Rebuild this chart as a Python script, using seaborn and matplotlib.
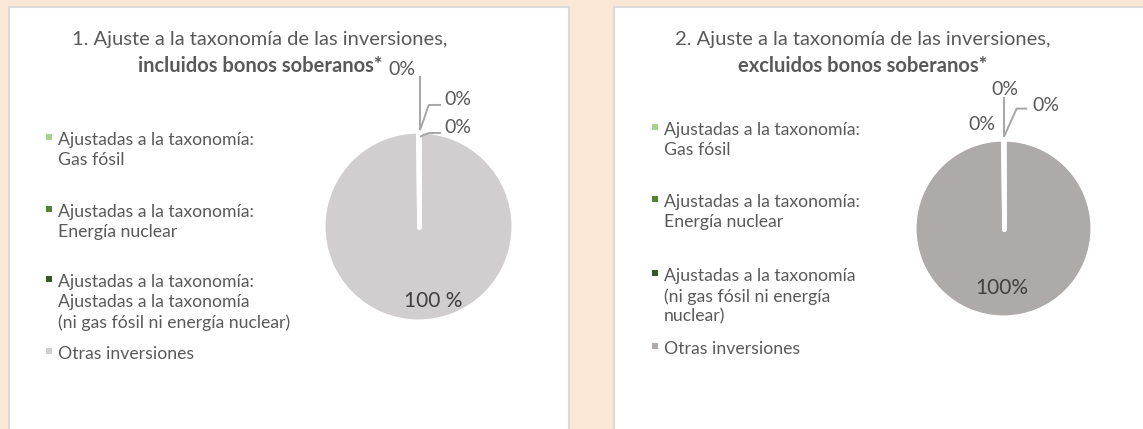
import numpy as np
import seaborn as sns
import matplotlib.pyplot as plt
from matplotlib.patches import Rectangle

# datos
categorias_1 = ["Ajustadas a la taxonomía:\nGas fósil",
                "Ajustadas a la taxonomía:\nEnergía nuclear",
                "Ajustadas a la taxonomía:\nAjustadas a la taxonomía\n(ni gas fósil ni energía nuclear)",
                "Otras inversiones"]
categorias_2 = ["Ajustadas a la taxonomía:\nGas fósil",
                "Ajustadas a la taxonomía:\nEnergía nuclear",
                "Ajustadas a la taxonomía\n(ni gas fósil ni energía\nnuclear)",
                "Otras inversiones"]
valores_1 = [0, 0, 0, 100]
valores_2 = [0, 0, 0, 100]
etiquetas_1 = ["0%", "0%", "0%", "100 %"]
etiquetas_2 = ["0%", "0%", "0%", "100%"]
titulo_1 = ("1. Ajuste a la taxonomía de las inversiones,", "incluidos bonos soberanos*")
titulo_2 = ("2. Ajuste a la taxonomía de las inversiones,", "excluidos bonos soberanos*")

verdes = ["#A9D18E", "#548235", "#375623"]
colores_1 = verdes + ["#D0CECE"]
colores_2 = verdes + ["#AEAAAA"]

sns.set_theme(style="white")
plt.rcParams["font.family"] = ["Lato", "DejaVu Sans"]
texto = "#595959"
linea = "#A6A6A6"

W, H = 1143, 429
fig = plt.figure(figsize=(W / 100, H / 100), dpi=100)
fig.patch.set_facecolor("#FAE7D6")


def fx(px):
    return px / W


def fy(py):
    return 1 - py / H


# paneles blancos
for x0, x1 in [(9, 569), (614, 1160)]:
    fig.add_artist(Rectangle((fx(x0), fy(440)), fx(x1 - x0), (440 - 7) / H,
                             transform=fig.transFigure, facecolor="white",
                             edgecolor="#DADADA", lw=1.5, zorder=0))


def panel(cx, cy, r, valores, colores, etiquetas, categorias, titulo, tcx,
          leg_x, leg_ys, lab_pos, leaders, big_pos):
    ax = fig.add_axes([fx(cx - r), fy(cy + r), fx(2 * r), 2 * r / H])
    wedges, _ = ax.pie(valores, colors=colores, startangle=90, counterclock=False,
                       radius=1, wedgeprops=dict(edgecolor="white", linewidth=0.8))
    # borde blanco de las porciones vacias
    for w in wedges:
        if abs(w.theta2 - w.theta1) < 1e-9:
            a = np.deg2rad(w.theta1)
            ax.plot([0, np.cos(a)], [0, np.sin(a)], color="white", lw=3.4,
                    solid_capstyle="round")
    ax.set_aspect("auto")
    ax.set_xlim(-1, 1)
    ax.set_ylim(-1, 1)
    ax.axis("off")
    for lab, (x, y, ha) in zip(etiquetas[:3], lab_pos):
        ax.text(x, y, lab, ha=ha, va="center", fontsize=14, color=texto, clip_on=False)
    for pts in leaders:
        xs, ys = zip(*pts)
        ax.plot(xs, ys, color=linea, lw=1.4, clip_on=False, solid_capstyle="butt")
    ax.text(big_pos[0], big_pos[1], etiquetas[3], ha="center", va="center",
            fontsize=15, color="#404040")
    # titulo
    fig.text(fx(tcx), fy(40), titulo[0], ha="center", va="center",
             fontsize=14.5, color=texto)
    fig.text(fx(tcx), fy(66), titulo[1], ha="center", va="center",
             fontsize=14.5, color=texto, fontweight="bold")
    # leyenda
    for cat, col, y in zip(categorias, colores, leg_ys):
        fig.add_artist(Rectangle((fx(leg_x - 12.5), fy(y + 3)), fx(6), 6 / H,
                                 transform=fig.transFigure, facecolor=col,
                                 edgecolor="none"))
        fig.text(fx(leg_x), fy(y - 5), cat, ha="left", va="top", fontsize=12.7,
                 color=texto, linespacing=1.3)


panel(418.5, 226.5, 93.5, valores_1, colores_1, etiquetas_1, categorias_1, titulo_1, 260,
      58.5, [137, 209, 279, 351],
      [(-0.18, 1.68, "center"), (0.28, 1.36, "left"), (0.28, 1.06, "left")],
      [[(0.016, 1.03), (0.016, 1.61)],
       [(0.016, 1.03), (0.11, 1.30), (0.24, 1.30)],
       [(0.016, 0.96), (0.11, 1.0), (0.24, 1.0)]],
      (0.155, -0.80))

panel(1003.5, 228.5, 87.5, valores_2, colores_2, etiquetas_2, categorias_2, titulo_2, 863,
      664, [127, 199, 273, 346],
      [(0.01, 1.59, "center"), (0.33, 1.41, "left"), (-0.25, 1.19, "center")],
      [[(0.006, 1.05), (0.006, 1.50)],
       [(0.006, 1.05), (0.15, 1.37), (0.27, 1.37)]],
      (-0.02, -0.68))

fig.savefig("out.png", dpi=100, facecolor=fig.get_facecolor())
